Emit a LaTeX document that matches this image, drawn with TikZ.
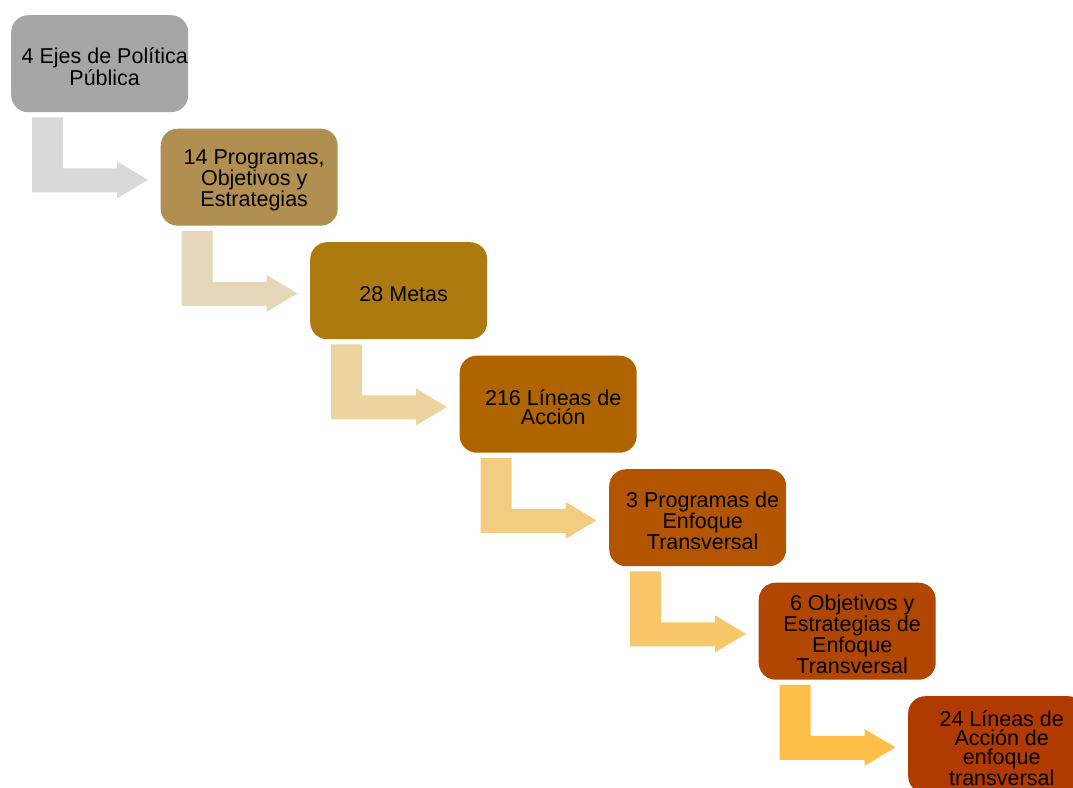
\documentclass[tikz,border=0pt]{standalone}
\usepackage{fontspec}
\setmainfont{Liberation Sans}
\usetikzlibrary{calc}
\definecolor{bx1}{HTML}{A6A6A6}
\definecolor{bx2}{HTML}{B18F50}
\definecolor{bx3}{HTML}{AD7A10}
\definecolor{bx4}{HTML}{B06400}
\definecolor{bx5}{HTML}{B35400}
\definecolor{bx6}{HTML}{B14600}
\definecolor{bx7}{HTML}{B03A00}
\definecolor{ar1}{HTML}{D9D9D9}
\definecolor{ar2}{HTML}{E6D7BA}
\definecolor{ar3}{HTML}{EDD3A0}
\definecolor{ar4}{HTML}{F2CC80}
\definecolor{ar5}{HTML}{F7C76A}
\definecolor{ar6}{HTML}{FDBF48}
\newcommand\bentarrow[2]{\fill[#2] ($(#1.south west)+(21,5)$) -- ++(31,0) -- ++(0,51) -- ++(54,0) -- ++(0,-7) -- ++(31,18.5) -- ++(-31,18.5) -- ++(0,-6) -- ++(-85,0) -- cycle;}
\begin{document}
\begin{tikzpicture}[x=1pt,y=-1pt,
  box/.style={rounded corners=17pt, minimum width=177pt, minimum height=97pt, inner sep=0pt, anchor=north west},
  txt/.style={font=\fontsize{21.5}{19}\selectfont, align=center, inner sep=0pt, xshift=5pt, yshift=-3pt, text=black}]
\useasboundingbox (0,0) rectangle (1073,787);
\clip (0,0) rectangle (1073,787);
\node[box, fill=bx1, label={[txt, name=t1]center:{4 Ejes de Política\\Pública}}] (b1) at (11,15) {};
\node[box, fill=bx2, label={[txt, name=t2]center:{14 Programas,\\Objetivos y\\Estrategias}}] (b2) at (160.5,128.5) {};
\node[box, fill=bx3, label={[txt, name=t3]center:{28 Metas}}] (b3) at (310,242) {};
\node[box, fill=bx4, label={[txt, name=t4]center:{216 Líneas de\\Acción}}] (b4) at (459.5,355.5) {};
\node[box, fill=bx5, label={[txt, name=t5]center:{3 Programas de\\Enfoque\\Transversal}}] (b5) at (609,469) {};
\node[box, fill=bx6, label={[txt, name=t6]center:{6 Objetivos y\\Estrategias de\\Enfoque\\Transversal}}] (b6) at (758.5,582.5) {};
\node[box, fill=bx7, label={[txt, name=t7]center:{24 Líneas de\\Acción de\\enfoque\\transversal}}] (b7) at (908,696) {};
\bentarrow{b1}{ar1}
\bentarrow{b2}{ar2}
\bentarrow{b3}{ar3}
\bentarrow{b4}{ar4}
\bentarrow{b5}{ar5}
\bentarrow{b6}{ar6}
\end{tikzpicture}
\end{document}
